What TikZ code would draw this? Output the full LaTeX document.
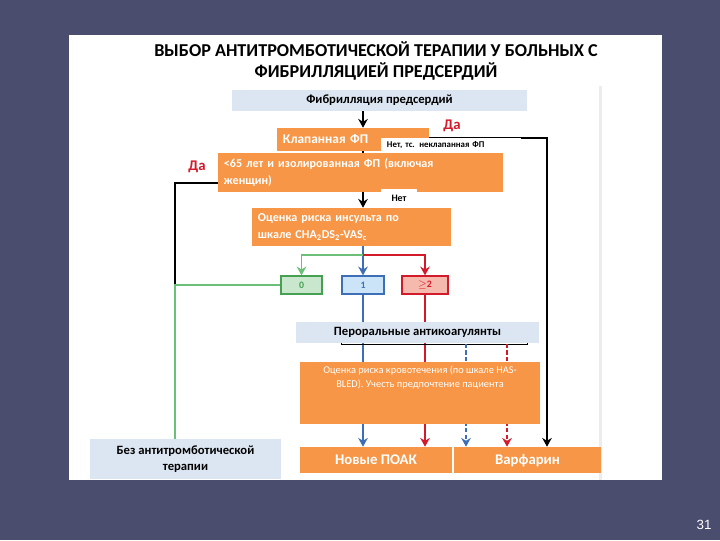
\documentclass[tikz,border=0pt]{standalone}
\usepackage{fontspec}
\setmainfont{Carlito}
\newfontfamily\numfont{Liberation Sans}
\usetikzlibrary{arrows.meta, calc, positioning}
\definecolor{slide}{HTML}{4A4D6E}
\definecolor{fporange}{HTML}{F79646}
\definecolor{fpgrey}{HTML}{DCE6F2}
\definecolor{fpgreen}{HTML}{45A052}
\definecolor{fpgreenln}{HTML}{6CBF78}
\definecolor{fpgreenfill}{HTML}{C9E7CD}
\definecolor{fpblue}{HTML}{3E6FB6}
\definecolor{fpbluefill}{HTML}{CCE4F7}
\definecolor{fpred}{HTML}{D31A2B}
\definecolor{fpredfill}{HTML}{F5B9AE}
\definecolor{fpfaint}{HTML}{ECECEC}
\pgfdeclarelayer{back}
\pgfdeclarelayer{wires}
\pgfsetlayers{back,wires,main}

\begin{document}
\begin{tikzpicture}[x=0.025cm, y=-0.025cm,
    font=\bfseries\fontsize{9}{11}\selectfont,
    title/.style={align=center, font=\bfseries\fontsize{12.9}{15.6}\selectfont},
    orangebox/.style={fill=fporange, text=white, align=left,
        inner xsep=0.15cm, inner ysep=0pt, font=\bfseries\fontsize{8.6}{12}\selectfont},
    resultbox/.style={orangebox, align=center, minimum height=0.65cm,
        text height=1.6ex, text depth=0.3ex, font=\bfseries\fontsize{10.5}{12}\selectfont},
    greybox/.style={fill=fpgrey, text=black, align=center, inner sep=0pt},
    scorebox/.style={line width=0.9pt, inner sep=0pt, minimum height=0.45cm,
        font=\bfseries\fontsize{7}{8}\selectfont},
    notebox/.style={fill=white, text=black, align=left, inner xsep=0.15cm,
        inner ysep=0pt, font=\bfseries\fontsize{6.3}{7}\selectfont},
    bleedtext/.style={text=white, align=center, inner sep=0pt,
        font=\fontsize{7.4}{10}\selectfont},
    yes/.style={text=fpred, inner sep=0pt, font=\bfseries\fontsize{10.5}{12}\selectfont},
    link/.style={line width=1.1pt, black},
    gline/.style={line width=1.1pt, fpgreenln},
    bline/.style={line width=1.3pt, fpblue},
    rline/.style={line width=1.1pt, fpred},
    dashline/.style={dash pattern=on 3pt off 1.6pt},
    arr/.style={-{Stealth[length=2.2mm, width=2.4mm]}}
]
% slide and sheet
\begin{pgfonlayer}{back}
\fill[slide] (0,0) rectangle (720,540);
\fill[white] (69,35) rectangle (662,480);
\fill[fpfaint] (599,86) rectangle (602,480);
\end{pgfonlayer}

\node[title] (T) at (376,61) {ВЫБОР АНТИТРОМБОТИЧЕСКОЙ ТЕРАПИИ У БОЛЬНЫХ С\\ФИБРИЛЛЯЦИЕЙ ПРЕДСЕРДИЙ};
\node[greybox, minimum width=7.375cm, minimum height=0.525cm] (AF) at (379.5,100.5) {Фибрилляция предсердий};
\node[orangebox, text width=3.5cm, minimum height=0.575cm,
    font=\bfseries\fontsize{9.5}{11}\selectfont] (valv) at (353,139.5) {Клапанная ФП};
\node[orangebox, text width=6.825cm, minimum height=0.975cm] (young) at (360.5,172.5)
    {<65 лет и изолированная ФП (включая\\женщин)};
\node[orangebox, text width=4.675cm, minimum height=0.95cm] (risk) at (351.5,227)
    {Оценка риска инсульта по\\шкале CHA\textsubscript{2}DS\textsubscript{2}-VAS\textsubscript{c}};
\node[scorebox, draw=fpgreen, fill=fpgreenfill, text=fpgreen, minimum width=1.025cm] (s0) at (301.5,285) {0};
\node[scorebox, draw=fpblue, fill=fpbluefill, text=fpblue, minimum width=1.05cm] (s1) at (363,285) {1};
\node[scorebox, draw=fpred, fill=fpredfill, text=fpred, minimum width=1.15cm] (s2) at (425,285) {$\geq$2};
\node[greybox, minimum width=6.075cm, minimum height=0.525cm] (oac) at (417.5,332.5) {Пероральные антикоагулянты};
\node[orangebox, minimum width=6cm, minimum height=1.55cm] (bleed) at (420,393) {};
\node[bleedtext, below=0.1cm of bleed.north] (bleedtxt)
    {Оценка риска кровотечения (по шкале HAS-\\BLED). Учесть предпочтение пациента};
\node[resultbox, minimum width=3.8cm] (noac) at (376,460) {Новые ПОАК};
\node[resultbox, minimum width=3.675cm] (warf) at (527.5,460) {Варфарин};
\node[greybox, minimum width=4.775cm, minimum height=1cm] (none) at (185.5,459)
    {Без антитромботической\\терапии};

\coordinate (valvR) at (547,138);
\coordinate (youngL) at (175,183);
\coordinate (zeroL) at (175,285);
\coordinate (fork) at (363,255);
\coordinate (bracketL) at (341,344);
\coordinate (bracketR) at (527,344);
\coordinate (dashB) at (466,344);
\coordinate (dashR) at (507,344);

\begin{pgfonlayer}{wires}
\draw[link, arr] (AF.south -| fork) -- (valv.north -| fork);
\draw[link] (valv.south -| fork) -- (young.north -| fork);
\draw[link, arr] (young.south -| fork) -- (risk.north -| fork);
\draw[link, arr] (valvR -| valv.east) -- (valvR) -- (valvR |- warf.north);
\draw[link] (youngL -| young.west) -- (youngL) -- (zeroL);
\draw[gline] (s0.west) -- (zeroL) -- (zeroL |- none.north);
\draw[bline, arr] (risk.south -| fork) -- (s1.north);
\draw[gline, arr] (fork) -| (s0.north);
\draw[rline, arr] (fork) -| (s2.north);
\draw[bline, arr] (s1.south) -- (s1.south |- noac.north);
\draw[rline, arr] (s2.south) -- (s2.south |- noac.north);
\draw[thin] ($(bracketL)+(0,-3)$) -- (bracketL) -- (bracketR) -- ++(0,-3);
\draw[bline, dashline, arr] (dashB) -- (dashB |- warf.north);
\draw[rline, dashline, arr] (dashR) -- (dashR |- warf.north);
\end{pgfonlayer}

\node[yes] (yesR) at (452,126) {Да};
\node[yes] (yesL) at (197,167) {Да};
\node[notebox, text width=3.2cm, minimum height=0.375cm] (nonvalv) at (451,145.5) {Нет, тс. неклапанная ФП};
\node[notebox, font=\bfseries\fontsize{7}{8}\selectfont, minimum width=0.9cm, minimum height=0.45cm] (no) at (399,198) {Нет};
\node[text=white, font=\numfont\fontsize{9.5}{10}\selectfont] (num) at (704,525) {31};
\end{tikzpicture}
\end{document}
